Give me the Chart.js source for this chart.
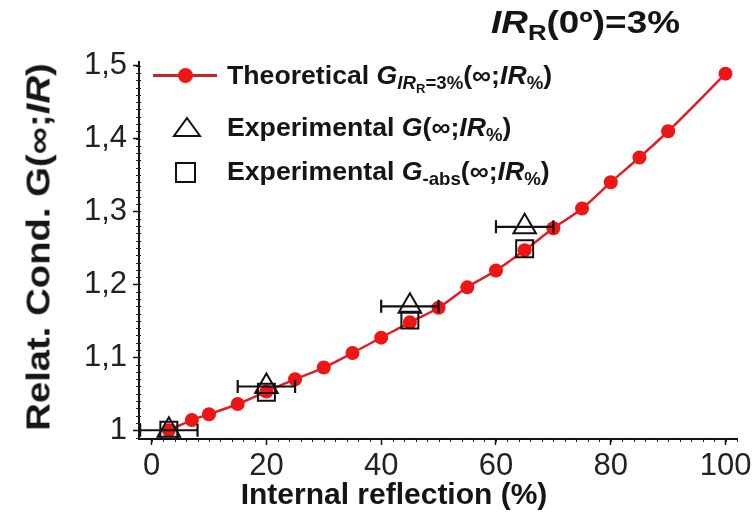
<!DOCTYPE html>
<html>
<head>
<meta charset="utf-8">
<script src="https://cdn.jsdelivr.net/npm/chart.js@4.4.1/dist/chart.umd.min.js"></script>
<style>
  html, body { margin: 0; padding: 0; background: #fff; }
  #wrap { position: relative; width: 752px; height: 513px; font-family: "Liberation Sans", Arial, sans-serif; color: #151515; }
  #wrap canvas { position: absolute; left: 0; top: 0; }
  .txt { position: absolute; white-space: nowrap; font-weight: bold; line-height: 1; }
  .txt sub { font-size: 70%; vertical-align: -0.3em; }
  .txt sub sub { font-size: 70%; }
  .leg { left: 227px; font-size: 26px; transform-origin: 0 0; transform: scaleX(1.025); }
  .mk { position: absolute; }
</style>
</head>
<body>
<div id="wrap">
  <canvas id="chart" width="752" height="513"></canvas>

  <div class="txt" id="title" style="left:491px; top:7px; font-size:31px; transform-origin:0 0; transform:scaleX(1.19);"><i>IR</i><sub>R</sub>(0º)=3%</div>

  <div class="mk" style="left:153px; top:74px; width:64px; height:3px; background:#c0282c;"></div>
  <div class="mk" style="left:178px; top:68px; width:15px; height:15px; border-radius:50%; background:#ee1515;"></div>
  <div class="txt leg" style="top:62px;">Theoretical <i>G</i><sub><i>IR</i><sub>R</sub>=3%</sub>(∞;<i>IR</i><sub>%</sub>)</div>

  <svg class="mk" style="left:172px; top:116px;" width="30" height="22"><polygon points="15,2 28,20 2,20" fill="none" stroke="#111" stroke-width="2"/></svg>
  <div class="txt leg" style="top:114px;">Experimental <i>G</i>(∞;<i>IR</i><sub>%</sub>)</div>

  <div class="mk" style="left:175px; top:162px; width:17px; height:17px; border:2px solid #111;"></div>
  <div class="txt leg" style="top:158px;">Experimental <i>G</i><sub>-abs</sub>(∞;<i>IR</i><sub>%</sub>)</div>

  <div class="txt" style="left:38px; top:247px; font-size:33px; transform:translate(-50%,-50%) rotate(-90deg) scaleX(1.16);">Relat. Cond. G(∞;<i>IR</i>)</div>
  <div class="txt" style="left:394px; top:494px; font-size:30px; transform:translate(-50%,-50%);">Internal reflection (%)</div>
</div>

<script>
// theoretical curve G_IRR=3%(inf; IR%)
const theoX = [3, 7, 10, 15, 20, 25, 30, 35, 40, 45, 50, 55, 60, 65, 70, 75, 80, 85, 90, 100];
const theoY = [1.000, 1.014, 1.022, 1.036, 1.053, 1.070, 1.086, 1.106, 1.127, 1.148, 1.168, 1.196, 1.219, 1.247, 1.277, 1.304, 1.340, 1.374, 1.410, 1.489];

// experimental points
const expX = [3, 20, 45, 65];
const expErrX = [5, 5, 5, 5];
const triY = [1.000, 1.060, 1.170, 1.279];
const sqY = [1.000, 1.052, 1.151, 1.249];

// axis ticks
const xTicks = [0, 20, 40, 60, 80, 100];
const yTicks = [1.0, 1.1, 1.2, 1.3, 1.4, 1.5];

const toPoints = (xs, ys) => xs.map((x, i) => ({ x, y: ys[i] }));

const extras = {
  id: 'extras',
  afterDatasetsDraw(chart) {
    const { ctx } = chart;
    const xs = chart.scales.x;
    const ys = chart.scales.y;
    ctx.save();
    ctx.strokeStyle = '#111';
    ctx.lineWidth = 2.2;
    expX.forEach((x, i) => {
      const py = ys.getPixelForValue(triY[i]);
      const x0 = xs.getPixelForValue(x - expErrX[i]);
      const x1 = xs.getPixelForValue(x + expErrX[i]);
      ctx.beginPath();
      ctx.moveTo(x0, py); ctx.lineTo(x1, py);
      ctx.moveTo(x0, py - 6.5); ctx.lineTo(x0, py + 6.5);
      ctx.moveTo(x1, py - 6.5); ctx.lineTo(x1, py + 6.5);
      ctx.stroke();
    });
    ctx.restore();
  },
  afterDraw(chart) {
    // minor ticks
    const { ctx, chartArea } = chart;
    const xs = chart.scales.x;
    const ys = chart.scales.y;
    ctx.save();
    ctx.strokeStyle = '#222';
    ctx.lineWidth = 1;
    ctx.beginPath();
    for (let v = 0; v <= 102; v += 2) {
      const px = Math.round(xs.getPixelForValue(v)) + 0.5;
      ctx.moveTo(px, chartArea.bottom); ctx.lineTo(px, chartArea.bottom + 3);
    }
    for (let k = 99; k <= 150; k++) {
      const py = Math.round(ys.getPixelForValue(k / 100)) + 0.5;
      ctx.moveTo(chartArea.left - 3, py); ctx.lineTo(chartArea.left + 2, py);
    }
    ctx.stroke();
    ctx.restore();
  }
};

new Chart(document.getElementById('chart'), {
  type: 'scatter',
  data: {
    datasets: [
      {
        label: 'Experimental G(∞;IR%)',
        data: toPoints(expX, triY),
        pointStyle: 'triangle',
        pointRadius: 13,
        pointBorderWidth: 2,
        pointBorderColor: '#111',
        pointBackgroundColor: 'rgba(0,0,0,0)',
        showLine: false,
        order: 1
      },
      {
        label: 'Experimental G-abs(∞;IR%)',
        data: toPoints(expX, sqY),
        pointStyle: 'rect',
        pointRadius: 12,
        pointBorderWidth: 2,
        pointBorderColor: '#111',
        pointBackgroundColor: 'rgba(0,0,0,0)',
        showLine: false,
        order: 2
      },
      {
        label: 'Theoretical G IRR=3%(∞;IR%)',
        data: toPoints(theoX, theoY),
        showLine: true,
        borderColor: '#dd2026',
        borderWidth: 2.5,
        cubicInterpolationMode: 'monotone',
        pointStyle: 'circle',
        pointRadius: 7,
        pointBorderWidth: 0,
        pointBackgroundColor: '#ee1515',
        order: 3
      }
    ]
  },
  options: {
    responsive: false,
    animation: false,
    devicePixelRatio: 1,
    layout: { padding: { left: 0, right: 14, top: 62, bottom: 0 } },
    plugins: {
      legend: { display: false },
      tooltip: { enabled: false }
    },
    scales: {
      x: {
        type: 'linear',
        min: -2.2,
        max: 102,
        afterBuildTicks: (s) => { s.ticks = xTicks.map(v => ({ value: v })); },
        afterFit: (s) => { s.height = 74; s.paddingLeft = 0; s.paddingRight = 0; },
        border: { display: true, color: '#111', width: 2 },
        grid: { drawOnChartArea: false, drawTicks: true, tickLength: 6, tickColor: '#111', tickWidth: 1.5 },
        ticks: { color: '#222', padding: 3, maxRotation: 0, font: { family: '"Liberation Sans", Arial', size: 31 } }
      },
      y: {
        type: 'linear',
        min: 0.988,
        max: 1.505,
        afterBuildTicks: (s) => { s.ticks = yTicks.map(v => ({ value: v })); },
        afterFit: (s) => { s.width = 139; s.paddingTop = 0; s.paddingBottom = 0; },
        border: { display: true, color: '#111', width: 2 },
        grid: { drawOnChartArea: false, drawTicks: true, tickLength: 6, tickColor: '#111', tickWidth: 1.5 },
        ticks: {
          color: '#222',
          padding: 6,
          font: { family: '"Liberation Sans", Arial', size: 31 },
          callback: (v) => (v === 1 ? '1' : v.toFixed(1).replace('.', ','))
        }
      }
    }
  },
  plugins: [extras]
});
</script>
</body>
</html>
